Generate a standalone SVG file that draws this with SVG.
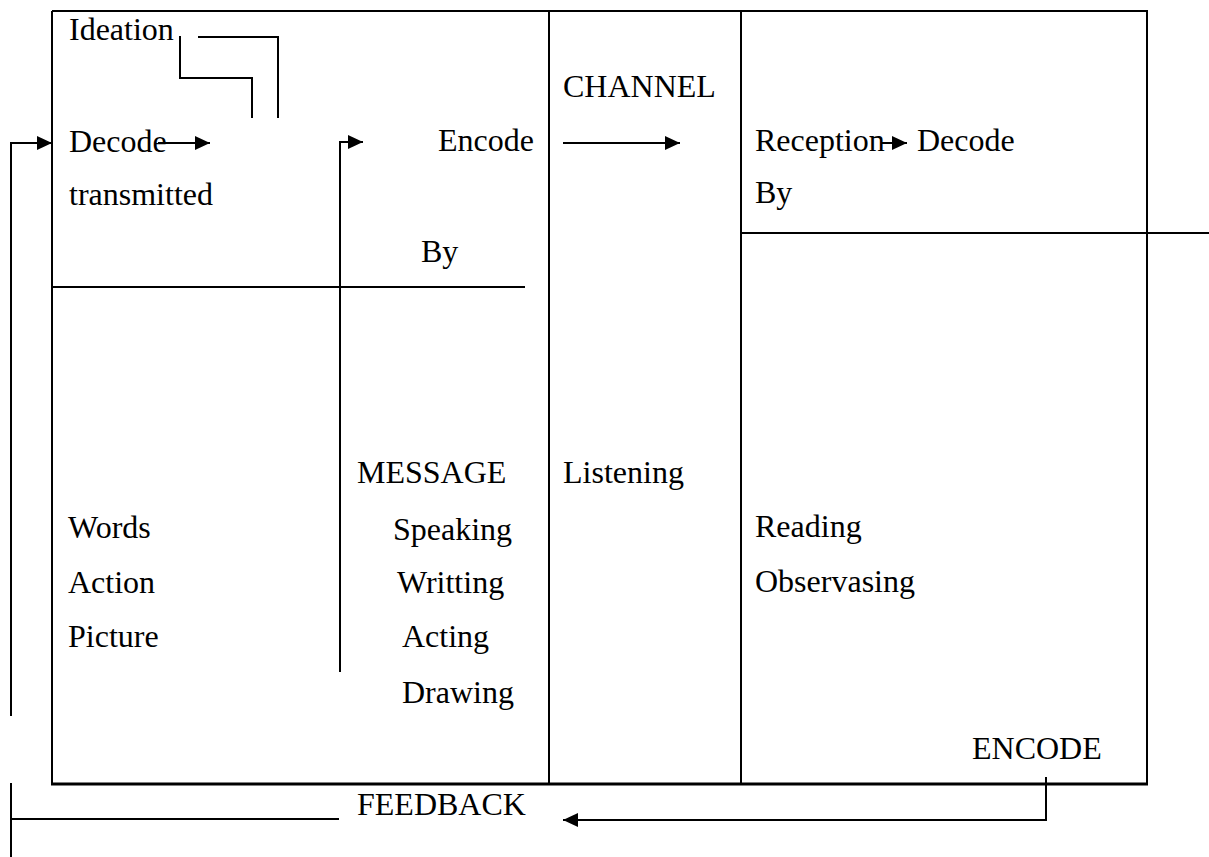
<svg xmlns="http://www.w3.org/2000/svg" width="1209" height="857" viewBox="0 0 1209 857">
<style>
  text { font-family: "Liberation Serif", "Times New Roman", serif; font-size: 32px; fill: #000; }
  .ln { stroke: #000; stroke-width: 2; fill: none; }
  .thick { stroke: #000; stroke-width: 3; fill: none; }
  .arr { stroke: #000; stroke-width: 2; fill: none; marker-end: url(#ah); }
</style>
<defs>
  <marker id="ah" markerUnits="userSpaceOnUse" viewBox="0 0 15 14" refX="15" refY="7" markerWidth="15" markerHeight="14" orient="auto">
    <path d="M0,0 L15,7 L0,14 z" fill="#000"/>
  </marker>
</defs>
<rect width="1209" height="857" fill="#fff"/>

<g id="frame">
  <line class="ln" x1="52" y1="11" x2="1148" y2="11"/>
  <line class="ln" x1="52" y1="11" x2="52" y2="784"/>
  <line class="ln" x1="1147" y1="11" x2="1147" y2="784"/>
  <line class="thick" x1="51" y1="784" x2="1148" y2="784"/>
  <line class="ln" x1="549" y1="11" x2="549" y2="784"/>
  <line class="ln" x1="741" y1="11" x2="741" y2="784"/>
  <line class="ln" x1="52" y1="287" x2="525" y2="287"/>
  <line class="ln" x1="741" y1="233" x2="1209" y2="233"/>
</g>

<g id="node-sender">
  <text x="69" y="40">Ideation</text>
  <text x="69" y="152">Decode</text>
  <text x="69" y="205">transmitted</text>
  <text x="438" y="151">Encode</text>
  <text x="421" y="262">By</text>
</g>

<g id="node-media">
  <text x="68" y="538">Words</text>
  <text x="68" y="593">Action</text>
  <text x="68" y="647">Picture</text>
</g>

<g id="node-message">
  <text x="357" y="483">MESSAGE</text>
  <text x="393" y="540">Speaking</text>
  <text x="397" y="593">Writting</text>
  <text x="402" y="647">Acting</text>
  <text x="402" y="703">Drawing</text>
</g>

<g id="node-channel">
  <text x="563" y="97">CHANNEL</text>
  <text x="563" y="483">Listening</text>
</g>

<g id="node-receiver">
  <text x="755" y="151">Reception</text>
  <text x="917" y="151">Decode</text>
  <text x="755" y="203">By</text>
  <text x="755" y="537">Reading</text>
  <text x="755" y="592">Observasing</text>
  <text x="972" y="759">ENCODE</text>
</g>

<g id="node-feedback">
  <text x="357" y="815">FEEDBACK</text>
</g>

<g id="connectors">
  <polyline class="ln" points="180,36 180,78 252,78 252,118"/>
  <polyline class="ln" points="198,37 278,37 278,118"/>
  <line class="arr" x1="158" y1="143" x2="210" y2="143"/>
  <polyline class="arr" points="340,672 340,142 363,142"/>
  <line class="arr" x1="563" y1="143" x2="680" y2="143"/>
  <line class="arr" x1="882" y1="143" x2="907" y2="143"/>
  <polyline class="arr" points="11,716 11,143 52,143"/>
  <line class="ln" x1="11" y1="783" x2="11" y2="857"/>
  <line class="ln" x1="11" y1="819" x2="339" y2="819"/>
  <polyline class="arr" points="1046,777 1046,820 563,820"/>
</g>
</svg>
